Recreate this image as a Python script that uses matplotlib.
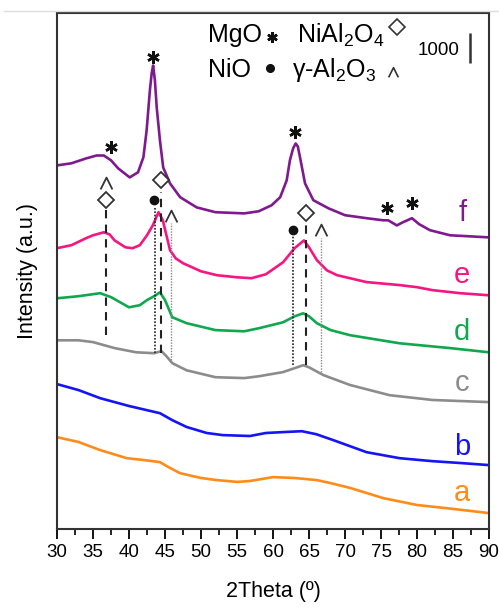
import matplotlib
matplotlib.use('Agg')
import matplotlib.pyplot as plt
from matplotlib.path import Path
from matplotlib.lines import Line2D
import numpy as np

plt.rcParams['font.family'] = ['Liberation Sans', 'DejaVu Sans']
plt.rcParams['mathtext.fontset'] = 'custom'
plt.rcParams['mathtext.rm'] = 'Liberation Sans'
plt.rcParams['mathtext.it'] = 'Liberation Sans'

# XRD patterns (2theta in degrees, counts incl. stacking offset)
theta_a = [30, 33, 36, 39.7, 42, 44.3, 45.5, 47.1, 50, 52.2, 55, 56.8, 60, 63, 66.1, 68, 70.7, 75.3, 80, 85, 90]
counts_a = [3060, 2900, 2630, 2360, 2300, 2230, 2060, 1860, 1700, 1630, 1570, 1600, 1730, 1700, 1630, 1530, 1370, 1030, 800, 670, 530]

theta_b = [30, 33, 36, 40, 44.3, 46, 48, 50.8, 53, 56.8, 59, 61.4, 64, 66, 68.4, 73, 75.3, 77.6, 82.2, 86, 90]
counts_b = [4830, 4630, 4360, 4100, 3860, 3630, 3400, 3200, 3130, 3100, 3200, 3230, 3260, 3160, 2960, 2560, 2460, 2360, 2260, 2200, 2130]

theta_c = [30, 33, 35, 38, 41, 43.5, 44.5, 45.2, 46, 48, 52, 56, 58, 61.4, 64.2, 65, 67, 70.7, 76.2, 82.2, 90]
counts_c = [6290, 6290, 6230, 6030, 5890, 5860, 5930, 5760, 5530, 5290, 5060, 5030, 5090, 5230, 5460, 5390, 5130, 4800, 4460, 4300, 4230]

theta_d = [30, 33, 36, 37.5, 40, 41.5, 42.5, 43.5, 44.3, 45, 46, 48, 52, 56, 58, 61.4, 63, 64.2, 65, 66.1, 68, 70.7, 77.6, 84.6, 90]
counts_d = [7690, 7760, 7860, 7730, 7390, 7460, 7630, 7760, 7890, 7630, 7060, 6860, 6630, 6590, 6690, 6890, 7090, 7190, 7090, 6860, 6630, 6460, 6190, 6030, 5890]

theta_e = [30, 32, 34, 35, 36.5, 37.3, 38, 39.5, 40.5, 41.5, 42.5, 43.3, 44.1, 44.7, 45.7, 46.5, 47.5, 50, 52.2, 55, 57, 59, 61.4, 63, 64.3, 65, 66.1, 67.5, 68.9, 73, 77.6, 80, 82.2, 86, 90]
counts_e = [9360, 9460, 9690, 9790, 9890, 9820, 9620, 9390, 9360, 9460, 9790, 10120, 10560, 10290, 9290, 9020, 8860, 8590, 8460, 8390, 8360, 8490, 8890, 9360, 9620, 9390, 8960, 8620, 8460, 8230, 8130, 8060, 7960, 7860, 7790]

theta_f = [30, 32, 34, 35.5, 36.5, 37.5, 38.5, 40.1, 41.25, 42, 42.45, 42.9, 43.15, 43.35, 43.6, 43.85, 44.3, 44.75, 45.7, 47.1, 49.4, 52, 56, 58, 59.8, 61, 61.9, 62.35, 62.8, 63.15, 63.45, 63.75, 64.45, 65.6, 67.7, 70, 73, 75.3, 76, 77.2, 78, 79.3, 80.3, 81.8, 84.6, 87, 90]
counts_f = [12120, 12190, 12350, 12450, 12450, 12290, 12020, 11720, 11890, 12390, 13290, 14620, 15190, 15450, 14950, 14050, 12950, 12050, 11520, 11060, 10720, 10560, 10520, 10590, 10790, 11060, 11620, 12290, 12690, 12850, 12750, 12390, 11520, 10960, 10690, 10460, 10360, 10290, 10290, 10120, 10220, 10360, 10160, 9960, 9790, 9760, 9720]

samples = ['a', 'b', 'c', 'd', 'e', 'f']
colors = ['#FF8C1A', '#1414F5', '#8C8C8C', '#10A84E', '#F51682', '#7E1A8E']
label_y = [1200, 2730, 4860, 6560, 8460, 10520]

# phase markers
mgo_theta = [37.5, 43.3, 63.1, 75.8, 79.3]
mgo_y = [12720, 15720, 13220, 10690, 10860]
spinel_theta = [36.8, 44.4, 64.6]
spinel_y = [10960, 11620, 10520]
nio_theta = [43.5, 62.8]
nio_y = [10960, 9960]
alumina_theta = [36.8, 45.9, 66.6]
alumina_y = [11520, 10420, 9960]

caret = Path([(-1, -1), (0, 1), (1, -1)], [Path.MOVETO, Path.LINETO, Path.LINETO])

fig = plt.figure(figsize=(4.99, 6.10), dpi=100)
ax = fig.add_axes([57/499, 1 - 529/610, 432/499, 516/610])

for th, ct, col in zip([theta_a, theta_b, theta_c, theta_d, theta_e, theta_f],
                       [counts_a, counts_b, counts_c, counts_d, counts_e, counts_f], colors):
    ax.plot(th, ct, color=col, lw=1.9)

for s, col, y in zip(samples, colors, label_y):
    ax.text(86.3, y, s, color=col, fontsize=21, ha='center', va='center')

# reference lines for the phases
ax.vlines(36.8, 6460, 10620, colors='#222222', linestyles=(0, (4, 3)), lw=1.5)
ax.vlines(44.4, 5860, 11220, colors='#222222', linestyles=(0, (4, 3)), lw=1.5)
ax.vlines(64.6, 5460, 10120, colors='#222222', linestyles=(0, (4, 3)), lw=1.5)
ax.vlines([43.55, 62.8], [5860, 5460], [10720, 9790], colors='#222222', linestyles=(0, (1, 1)), lw=1.2)
ax.vlines([45.9, 66.6], [5630, 5230], [10190, 9690], colors='#888888', linestyles=(0, (1, 1)), lw=1.0)

ax.plot(mgo_theta, mgo_y, ls='none', marker=(6, 2, 0), ms=9, mew=1.8, color='#111111')
ax.plot(spinel_theta, spinel_y, ls='none', marker='D', ms=8.5, mew=1.3, mfc='white', mec='#333333')
ax.plot(nio_theta, nio_y, ls='none', marker='o', ms=6, color='#111111')
ax.plot(alumina_theta, alumina_y, ls='none', marker=caret, ms=8.5, mew=1.3, mfc='none', mec='#333333')

# legend block
ax.text(51.0, 16220, 'MgO', fontsize=18, va='baseline')
ax.plot(59.8, 16400, ls='none', marker=(6, 2, 0), ms=7.5, mew=1.8, color='#111111')
ax.text(63.3, 16220, 'NiAl$_2$O$_4$', fontsize=18, va='baseline')
ax.plot(77.2, 16720, ls='none', marker='D', ms=8, mew=1.2, mfc='white', mec='#333333')
ax.text(51.0, 15050, 'NiO', fontsize=18, va='baseline')
ax.plot(59.6, 15350, ls='none', marker='o', ms=5.5, color='#111111')
ax.text(62.7, 15050, 'γ-Al$_2$O$_3$', fontsize=18, va='baseline')
ax.plot(76.6, 15220, ls='none', marker=caret, ms=7, mew=1.2, mfc='none', mec='#333333')

# 1000 counts scale bar
ax.vlines(87.4, 15520, 16520, colors='#333333', lw=1.8)
ax.text(85.9, 15790, '1000', fontsize=13.5, ha='right', va='baseline')

ax.set_xlim(30, 90)
ax.set_ylim(0, 17200)
ax.set_xticks(np.arange(30, 91, 5))
ax.set_xticks(np.arange(32.5, 90, 5), minor=True)
ax.set_yticks([])
ax.tick_params(axis='x', which='major', direction='out', length=7, width=1.3, labelsize=13.5, pad=4)
ax.tick_params(axis='x', which='minor', direction='out', length=4, width=1.2)
for sp in ax.spines.values():
    sp.set_linewidth(1.5)
    sp.set_color('#333333')

ax.set_xlabel('2Theta (º)', fontsize=15.5, labelpad=14)
ax.set_ylabel('Intensity (a.u.)', fontsize=15.5, labelpad=14)

fig.add_artist(Line2D([4/499, 1.0], [1 - 11/610, 1 - 11/610], color='#dddddd', lw=1.0))

fig.savefig('out.png', dpi=100)
